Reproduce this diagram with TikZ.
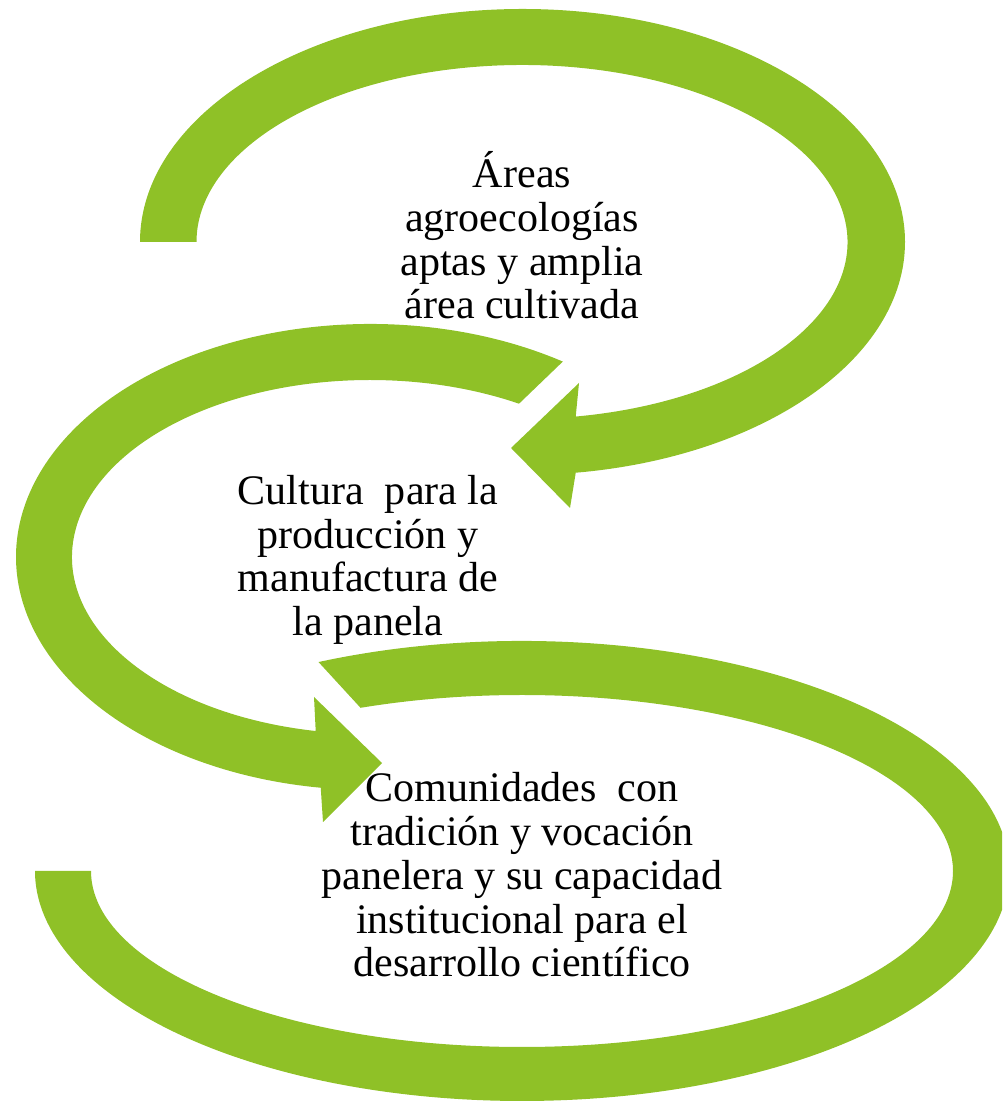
\documentclass[tikz,border=0pt]{standalone}
\usepackage{fontspec}
\setmainfont{Liberation Serif}
\usepackage{xcolor}
\usepackage{tikz}

\definecolor{leafgreen}{RGB}{143,193,39}

\begin{document}
\begin{tikzpicture}[x=0.025cm,y=0.025cm,
  step text/.style={align=center,inner sep=0pt,font=\fontsize{29.9}{31.1}\selectfont}]

    \tikzstyle{band} = [fill=leafgreen,draw=none]

  \useasboundingbox (0,0) rectangle (1002,1104);
  \clip (0,0) rectangle (1002,1104);

  % top arrow, turns to the left
  \fill[band] (140,862) arc[start angle=180,end angle=-82,x radius=382.5,y radius=233]
    -- (570,596) -- (511,656) -- (579,721)
    -- ([shift={(522,862)}]-80.5:325.5 and 177)
    arc[start angle=-80.5,end angle=180,x radius=325.5,y radius=177] -- cycle;

  % middle arrow, turns to the right
  \fill[band] ([shift={(370,547)}]57:354 and 233)
    arc[start angle=57,end angle=262,x radius=354,y radius=233]
    -- (323,282) -- (382,341) -- (314,407)
    -- ([shift={(370,547)}]259.5:298 and 177)
    arc[start angle=259.5,end angle=60,x radius=298,y radius=177] -- cycle;

  % bottom band, no head
  \fill[band] ([shift={(522,233)}]114.7:487 and 230)
    arc[start angle=114.7,end angle=-180,x radius=487,y radius=230]
    -- (91,233)
    arc[start angle=-180,end angle=112,x radius=431,y radius=176] -- cycle;

  \node[step text] (1) at (522,868.5) {Áreas\\agroecologías\\aptas y amplia\\área cultivada};
  \node[step text] (2) at (368,544) {Cultura\ \ para la\\producción y\\manufactura de\\la panela};
  \node[step text] (3) at (522,229) {Comunidades\ \ con\\tradición y vocación\\panelera y su capacidad\\institucional para el\\desarrollo científico};

\end{tikzpicture}
\end{document}
